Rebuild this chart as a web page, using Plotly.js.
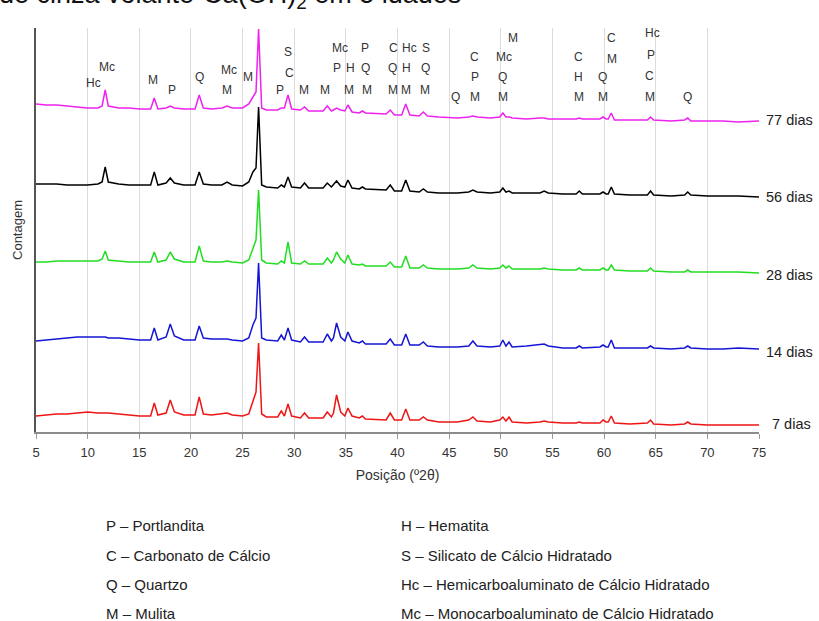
<!DOCTYPE html>
<html>
<head>
<meta charset="utf-8">
<script src="https://cdn.plot.ly/plotly-3.0.1.min.js"></script>
<style>html,body{margin:0;padding:0;background:#fff}#chart{width:819px;height:621px}</style>
</head>
<body>
<div id="chart"></div>
<script>
// 2θ positions (shared by all patterns)
var twoTheta = [
 5,6,7,8,9,10,11,11.4,11.7,12.0,
 13,14,15,16.1,16.45,16.8,17.6,18.0,18.4,19.3,
 20.4,20.8,21.2,22,23.0,23.5,24,25,25.6,26.0,
 26.3,26.55,26.85,27.3,28.4,28.75,29.05,29.4,29.75,30.6,
 31.0,31.4,32.8,33.2,33.6,33.8,34.1,34.5,34.9,35.2,
 35.6,36.3,36.6,36.9,38.9,39.3,39.7,40.4,40.8,41.2,
 42.1,42.5,42.9,44,45.8,46.9,47.3,47.7,49.0,49.9,
 50.2,50.5,50.8,51.1,52.5,53.8,54.2,54.6,56,57.3,
 57.6,57.9,59.6,59.9,60.2,60.4,60.7,61.0,62.5,64.2,
 64.5,64.8,66.5,67.8,68.1,68.4,70,71.5,73,75
];
// stacked counts (offset patterns)
var dias7 = [
 16,17,18,18,19,20,19,19,19,19,
 18,17,16,16,29,17,19,32,20,17,
 17,35,18,17,18,19,17,16,18,32,
 40,89,18,15,15,21,16,28,16,14,
 19,14,14,20,15,19,37,20,16,24,
 16,14,16,13,12,19,12,12,23,12,
 12,15,12,10,10,12,15,11,10,12,
 15,11,15,10,9,10,11,10,9,9,
 10,9,9,12,10,10,16,9,8,9,
 12,8,7,8,10,8,7,7,7,7
];
var dias14 = [
 91,92,93,94,95,95,95,95,95,94,
 94,93,92,92,104,92,95,108,96,92,
 92,106,94,93,93,93,92,91,94,107,
 114,169,94,92,91,97,92,104,92,90,
 95,90,90,98,91,94,109,95,91,100,
 91,89,91,88,88,93,87,87,98,87,
 87,90,86,85,85,86,91,86,85,86,
 92,86,90,85,86,87,88,86,84,84,
 86,84,85,87,85,85,92,84,84,84,
 86,84,83,84,86,84,83,83,84,83
];
var dias28 = [
 170,170,171,171,171,171,171,173,181,172,
 171,170,170,170,180,170,172,180,173,170,
 170,186,171,170,170,171,170,169,172,184,
 192,242,172,169,168,171,169,190,169,168,
 171,168,168,174,169,172,180,173,169,177,
 168,167,168,166,166,170,165,165,176,164,
 164,167,164,163,163,164,167,164,163,164,
 167,164,166,163,163,163,164,163,162,162,
 164,162,162,164,162,162,167,162,161,161,
 164,161,160,160,162,160,160,160,160,159
];
var dias56 = [
 248,248,248,247,247,247,248,250,265,250,
 248,247,247,247,260,247,249,254,249,247,
 247,260,248,247,247,250,247,246,250,260,
 264,325,247,245,244,247,245,255,245,244,
 249,244,244,249,245,247,251,246,245,252,
 244,243,245,243,242,247,241,241,252,241,
 240,243,240,239,239,240,242,240,239,240,
 244,240,241,239,239,239,241,239,238,238,
 241,238,238,240,238,238,245,238,237,237,
 241,237,236,237,240,237,236,236,236,235
];
var dias77 = [
 328,327,327,326,325,324,324,326,342,326,
 324,324,323,323,334,323,324,326,324,323,
 323,337,324,323,324,326,324,324,328,335,
 340,403,324,322,322,324,324,337,323,322,
 325,321,321,326,321,322,324,322,321,327,
 320,319,321,319,318,322,317,317,328,317,
 316,320,316,315,314,315,316,315,314,315,
 319,315,315,314,313,314,314,313,313,313,
 314,313,313,315,313,313,319,312,312,312,
 315,312,311,312,314,311,311,311,310,311
];
var seriesNames = ['7 dias','14 dias','28 dias','56 dias','77 dias'];
var seriesData = [dias7, dias14, dias28, dias56, dias77];

// phase labels: text and 2θ position
var phaseText = ['Hc','Mc','M','P','Q','Mc','M','M','Q','S','C','P','M','M',
 'Mc','P','H','M','Hc','P','Q','M','S','C','Q','M','Hc','H','M','S','Q','M',
 'Q','M','P','C','P','M','Mc','Q','M','C','H','M','C','M','Q','M','Hc','P','C','M','Q'];
var phaseTheta = [10.53,11.88,16.34,18.19,20.80,23.71,23.52,25.55,26.52,29.43,29.53,28.66,30.98,33.02,
 34.47,34.18,35.44,35.35,37.09,36.90,36.90,37.00,39.61,39.61,39.52,39.61,41.16,40.87,40.78,42.72,42.72,42.62,
 45.62,47.47,47.47,47.47,50.96,51.15,50.28,50.18,50.18,57.55,57.55,57.55,60.75,60.75,59.88,59.88,64.73,64.53,64.43,64.43,68.12];

var legendLeft = ['P – Portlandita','C – Carbonato de Cálcio','Q – Quartzo','M – Mulita'];
var legendRight = ['H – Hematita','S – Silicato de Cálcio Hidratado','Hc – Hemicarboaluminato de Cálcio Hidratado','Mc – Monocarboaluminato de Cálcio Hidratado'];

// ---- styling / layout ----
var colors = ['#ee1515','#1515d5','#22dd22','#000000','#ee22ee'];
var phaseY = [83,67,80,90,77,70,90,77,13,52,73,90,90,90,
 48,68,68,90,27,48,68,90,27,48,68,90,48,68,90,48,68,90,
 97,97,77,57,17,38,57,77,97,57,77,97,38,59,77,97,33,55,76,97,97];
var plotBottomPx = 432;
var traces = seriesData.map(function(d,i){
  return {x: twoTheta, y: d, type:'scatter', mode:'lines', name: seriesNames[i],
    line:{color:colors[i], width:1.5}, hoverinfo:'skip'};
});
var ann = [];
var FONT = 'Liberation Sans, Arial, sans-serif';
phaseText.forEach(function(t,i){
  ann.push({x: phaseTheta[i], y: plotBottomPx - phaseY[i], xref:'x', yref:'y', text:t, showarrow:false,
    font:{family:FONT,size:12,color:'#333'}, xanchor:'center', yanchor:'middle'});
});
var endY = [8,80,157,235,312];
var endX = [1.0152,1.0069,1.0069,1.0069,1.0069];
seriesNames.forEach(function(n,i){
  ann.push({x:endX[i], xref:'paper', y:endY[i], yref:'y', text:n, showarrow:false,
    xanchor:'left', yanchor:'middle', font:{family:FONT,size:14.5,color:'#222'}});
});
var legY = [525,555,584,613];
legendLeft.forEach(function(t,i){
  ann.push({x:(104-36)/723, xref:'paper', y:(plotBottomPx-legY[i])/404, yref:'paper', text:t, showarrow:false,
    xanchor:'left', yanchor:'middle', font:{family:FONT,size:15,color:'#222'}});
});
legendRight.forEach(function(t,i){
  ann.push({x:(399-36)/723, xref:'paper', y:(plotBottomPx-legY[i])/404, yref:'paper', text:t, showarrow:false,
    xanchor:'left', yanchor:'middle', font:{family:FONT,size:15,color:'#222'}});
});
// cropped caption at the top
ann.push({x:(-3-36)/723, xref:'paper', y:(plotBottomPx+4)/404, yref:'paper',
  text:'de cinza volante-Ca(OH)<sub>2</sub> em 5 idades', showarrow:false, xanchor:'left', yanchor:'middle',
  font:{family:FONT,size:27,color:'#111'}});

var layout = {
  width:819, height:621,
  margin:{l:36, r:60, t:28, b:189},
  paper_bgcolor:'#fff', plot_bgcolor:'#fff',
  showlegend:false,
  xaxis:{range:[5,75], tick0:5, dtick:5, showgrid:true, gridcolor:'#dcdcdc', gridwidth:1,
    zeroline:false, showline:true, linecolor:'#8c8c8c', linewidth:2,
    ticks:'outside', ticklen:5, tickcolor:'#9a9a9a', ticklabelstandoff:2,
    tickfont:{family:FONT,size:13,color:'#333'},
    title:{text:'Posição (º2θ)', font:{family:FONT,size:14,color:'#333'}, standoff:12}},
  yaxis:{range:[0,404], showgrid:false, zeroline:false, showticklabels:false, ticks:'',
    showline:true, linecolor:'#555', linewidth:2,
    title:{text:'Contagem', font:{family:FONT,size:13,color:'#333'}, standoff:8}},
  annotations: ann
};
Plotly.newPlot('chart', traces, layout, {staticPlot:true, displayModeBar:false});
</script>
</body>
</html>
